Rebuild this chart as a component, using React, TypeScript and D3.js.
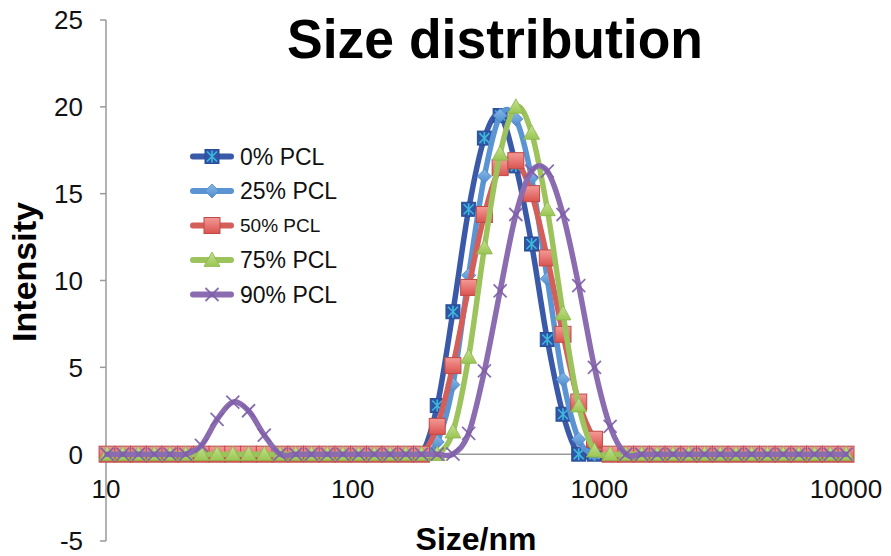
import React from 'react';
import * as d3 from 'd3';

const sizes = [10.1, 11.7, 13.54, 15.69, 18.17, 21.04, 24.36, 28.21, 32.67, 37.84, 43.82, 50.75, 58.77, 68.06, 78.82, 91.28, 105.7, 122.4, 141.8, 164.2, 190.1, 220.2, 255.0, 295.3, 342.0, 396.1, 458.7, 531.2, 615.1, 712.4, 825.0, 955.4, 1106, 1281, 1484, 1718, 1990, 2305, 2669, 3091, 3580, 4145, 4801, 5560, 6439, 7456, 8635, 10000];

const pcl0 = [0, 0, 0, 0, 0, 0, 0, 0, 0, 0, 0, 0, 0, 0, 0, 0, 0, 0, 0, 0, 0, 2.8, 8.2, 14.1, 18.2, 19.5, 16.6, 12.1, 6.6, 2.3, 0, 0, 0, 0, 0, 0, 0, 0, 0, 0, 0, 0, 0, 0, 0, 0, 0, 0];
const pcl25 = [0, 0, 0, 0, 0, 0, 0, 0, 0, 0, 0, 0, 0, 0, 0, 0, 0, 0, 0, 0, 0, 0.7, 4.0, 10.3, 16.0, 19.5, 19.3, 15.9, 10.1, 4.3, 0.85, 0, 0, 0, 0, 0, 0, 0, 0, 0, 0, 0, 0, 0, 0, 0, 0, 0];
const pcl50 = [0, 0, 0, 0, 0, 0, 0, 0, 0, 0, 0, 0, 0, 0, 0, 0, 0, 0, 0, 0, 0, 1.6, 5.1, 9.6, 13.8, 16.5, 16.9, 15.0, 11.3, 6.9, 3.0, 0.86, 0, 0, 0, 0, 0, 0, 0, 0, 0, 0, 0, 0, 0, 0, 0, 0];
const pcl75 = [0, 0, 0, 0, 0, 0, 0, 0, 0, 0, 0, 0, 0, 0, 0, 0, 0, 0, 0, 0, 0, 0, 1.3, 5.6, 11.9, 17.3, 20.0, 18.5, 14.1, 8.1, 2.8, 0.2, 0, 0, 0, 0, 0, 0, 0, 0, 0, 0, 0, 0, 0, 0, 0, 0];
const pcl90 = [0, 0, 0, 0, 0, 0, 0.5, 2.0, 3.0, 2.5, 1.1, 0, 0, 0, 0, 0, 0, 0, 0, 0, 0, 0, 0, 1.2, 4.8, 9.4, 13.8, 16.3, 16.3, 13.8, 9.7, 5.0, 1.6, 0, 0, 0, 0, 0, 0, 0, 0, 0, 0, 0, 0, 0, 0, 0];

const seriesNames = ['0% PCL', '25% PCL', '50% PCL', '75% PCL', '90% PCL'];
const yTicks = [-5, 0, 5, 10, 15, 20, 25];
const xTicks = [10, 100, 1000, 10000];
const xTickLabels = ['10', '100', '1000', '10000'];

const FONT = "'Liberation Sans', Arial, Helvetica, sans-serif";

type MarkerKind = 'sqx' | 'diamond' | 'square' | 'triangle' | 'cross';

const seriesStyle: { color: string; marker: MarkerKind }[] = [
  { color: '#3A59A9', marker: 'sqx' },
  { color: '#5B94D2', marker: 'diamond' },
  { color: '#D45F5A', marker: 'square' },
  { color: '#9DC35D', marker: 'triangle' },
  { color: '#8B6CB1', marker: 'cross' },
];

function Marker({ kind, cx, cy }: { kind: MarkerKind; cx: number; cy: number }) {
  if (kind === 'sqx') {
    const s = 7;
    return (
      <g>
        <rect x={cx - s} y={cy - s} width={2 * s} height={2 * s} fill="#2F56A6" stroke="#2A4D96" strokeWidth={1} />
        <path d={`M${cx - 5},${cy - 5}L${cx + 5},${cy + 5}M${cx - 5},${cy + 5}L${cx + 5},${cy - 5}M${cx},${cy - 6}L${cx},${cy + 6}`} stroke="#3DB8DC" strokeWidth={1.6} />
      </g>
    );
  }
  if (kind === 'diamond') {
    const s = 7;
    return <path d={`M${cx},${cy - s}L${cx + s},${cy}L${cx},${cy + s}L${cx - s},${cy}Z`} fill="url(#gDiamond)" stroke="#4F86C6" strokeWidth={0.8} />;
  }
  if (kind === 'square') {
    const s = 8;
    return <rect x={cx - s} y={cy - s} width={2 * s} height={2 * s} fill="url(#gSquare)" stroke="#BE4B48" strokeWidth={1} />;
  }
  if (kind === 'triangle') {
    const s = 8;
    return <path d={`M${cx},${cy - s}L${cx + s},${cy + s * 0.8}L${cx - s},${cy + s * 0.8}Z`} fill="url(#gTri)" stroke="#8CB34C" strokeWidth={0.8} />;
  }
  const s = 6.5;
  return (
    <path d={`M${cx - s},${cy - s}L${cx + s},${cy + s}M${cx - s},${cy + s}L${cx + s},${cy - s}`} stroke="#7E5FA8" strokeWidth={1.8} opacity={0.9} />
  );
}

export default function App() {
  const x = d3.scaleLog().domain([10, 10000]).range([106, 846]);
  const y = d3.scaleLinear().domain([-5, 25]).range([541, 20]);
  const data = [pcl0, pcl25, pcl50, pcl75, pcl90];
  const line = d3
    .line<number>()
    .x((_, i) => x(sizes[i]))
    .y((d) => y(d))
    .curve(d3.curveCatmullRom.alpha(0));

  const legendY = (i: number) => 156.5 + i * 34.5;

  return (
    <svg width={891} height={556} style={{ position: 'absolute', left: 0, top: 0, background: '#fff' }} fontFamily={FONT}>
      <defs>
        <linearGradient id="gSquare" x1="0" y1="0" x2="0" y2="1">
          <stop offset="0" stopColor="#F49A96" />
          <stop offset="1" stopColor="#DA5450" />
        </linearGradient>
        <linearGradient id="gTri" x1="0" y1="0" x2="0" y2="1">
          <stop offset="0" stopColor="#C4E190" />
          <stop offset="1" stopColor="#9AC653" />
        </linearGradient>
        <linearGradient id="gDiamond" x1="0" y1="0" x2="0" y2="1">
          <stop offset="0" stopColor="#86B8E8" />
          <stop offset="1" stopColor="#4F8DCD" />
        </linearGradient>
      </defs>
      <rect x={0} y={0} width={891} height={556} fill="#fff" />

      {/* Y axis */}
      <line x1={106} x2={106} y1={y(25)} y2={y(-5)} stroke="#9A9A9A" strokeWidth={1.5} />
      {yTicks.map((t) => (
        <g key={t}>
          <line x1={100} x2={106} y1={y(t)} y2={y(t)} stroke="#9A9A9A" strokeWidth={1.5} />
          <text x={83} y={y(t)} dy="0.36em" textAnchor="end" fontSize={26} fill="#111">
            {t}
          </text>
        </g>
      ))}

      {/* X axis */}
      <line x1={x(10)} x2={x(10000)} y1={y(0)} y2={y(0)} stroke="#9A9A9A" strokeWidth={1.5} />
      {xTicks.map((t, i) => (
        <g key={t}>
          <line x1={x(t)} x2={x(t)} y1={y(0)} y2={y(0) + 7} stroke="#9A9A9A" strokeWidth={1.5} />
          <text x={x(t)} y={498} textAnchor="middle" fontSize={26} fill="#111">
            {xTickLabels[i]}
          </text>
        </g>
      ))}

      {/* Series */}
      {data.map((vals, si) => (
        <g key={si}>
          <path d={line(vals) || ''} fill="none" stroke={seriesStyle[si].color} strokeWidth={5.5} strokeLinejoin="round" strokeLinecap="round" />
          {vals.map((v, i) => (
            <Marker key={i} kind={seriesStyle[si].marker} cx={x(sizes[i])} cy={y(v)} />
          ))}
        </g>
      ))}

      {/* Legend */}
      {seriesNames.map((name, i) => (
        <g key={name}>
          <line x1={193} x2={231} y1={legendY(i)} y2={legendY(i)} stroke={seriesStyle[i].color} strokeWidth={6} strokeLinecap="round" />
          <Marker kind={seriesStyle[i].marker} cx={212} cy={legendY(i)} />
          <text x={240} y={legendY(i)} dy="0.36em" fontSize={i === 2 ? 19 : 23} fill="#111">
            {name}
          </text>
        </g>
      ))}

      {/* Titles */}
      <text x={495} y={58} textAnchor="middle" fontSize={56} fontWeight="bold" fill="#000" textLength={416} lengthAdjust="spacingAndGlyphs">
        Size distribution
      </text>
      <text transform="translate(36,272) rotate(-90)" textAnchor="middle" fontSize={34} fontWeight="bold" fill="#000">
        Intensity
      </text>
      <text x={476} y={550} textAnchor="middle" fontSize={32} fontWeight="bold" fill="#000">
        Size/nm
      </text>
    </svg>
  );
}
